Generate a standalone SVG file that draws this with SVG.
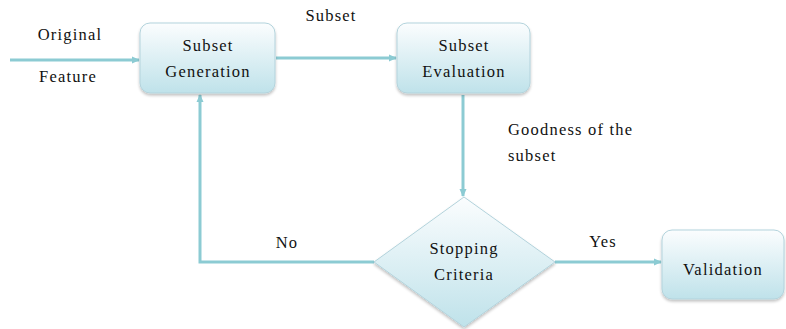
<svg xmlns="http://www.w3.org/2000/svg" width="786" height="329" viewBox="0 0 786 329">
<defs>
<linearGradient id="g" x1="0" y1="0" x2="0" y2="1">
<stop offset="0" stop-color="#fbfdfe"/>
<stop offset="1" stop-color="#bfe2ea"/>
</linearGradient>
<filter id="sh" x="-10%" y="-10%" width="120%" height="130%">
<feGaussianBlur in="SourceAlpha" stdDeviation="1.5"/>
<feOffset dx="0" dy="2"/>
<feComponentTransfer><feFuncA type="linear" slope="0.25"/></feComponentTransfer>
<feMerge><feMergeNode/><feMergeNode in="SourceGraphic"/></feMerge>
</filter>
<marker id="ah" markerWidth="8" markerHeight="8" refX="7" refY="4" orient="auto" markerUnits="userSpaceOnUse">
<path d="M0,0.5 L8,4 L0,7.5 Z" fill="#8ccbd3"/>
</marker>
</defs>
<style>
.box{fill:url(#g);stroke:#b3d3dc;stroke-width:1;filter:url(#sh)}
.c{fill:none;stroke:#8ccbd3;stroke-width:3}
.m{text-anchor:middle}
</style>
<g font-family="Liberation Serif, Times New Roman, serif" font-size="16.5" fill="#111" letter-spacing="1.2">
<g id="connectors">
<line class="c" x1="10" y1="60" x2="139" y2="60" marker-end="url(#ah)"/>
<line class="c" x1="276" y1="58" x2="396" y2="58" marker-end="url(#ah)"/>
<line class="c" x1="463" y1="95" x2="463" y2="196" marker-end="url(#ah)"/>
<polyline class="c" points="374,262 200,262 200,95" marker-end="url(#ah)"/>
<line class="c" x1="555" y1="262" x2="661" y2="262" marker-end="url(#ah)"/>
<text x="70" y="40" class="m">Original</text>
<text x="68" y="82" class="m">Feature</text>
<text x="331" y="21" class="m">Subset</text>
<text x="508" y="135">Goodness of the</text>
<text x="508" y="161">subset</text>
<text x="287" y="248" class="m">No</text>
<text x="603" y="247" class="m">Yes</text>
</g>
<g id="subset-generation">
<rect class="box" x="140" y="23" width="135" height="70" rx="10"/>
<text x="208" y="51" class="m">Subset</text>
<text x="208" y="77" class="m">Generation</text>
</g>
<g id="subset-evaluation">
<rect class="box" x="397" y="23" width="133" height="70" rx="10"/>
<text x="464" y="51" class="m">Subset</text>
<text x="464" y="77" class="m">Evaluation</text>
</g>
<g id="stopping-criteria">
<polygon class="box" points="464,197 555,262 464,327 374,262"/>
<text x="464" y="254" class="m">Stopping</text>
<text x="464" y="280" class="m">Criteria</text>
</g>
<g id="validation">
<rect class="box" x="662" y="230" width="122" height="69" rx="10"/>
<text x="723" y="275" class="m">Validation</text>
</g>
</g>
</svg>
